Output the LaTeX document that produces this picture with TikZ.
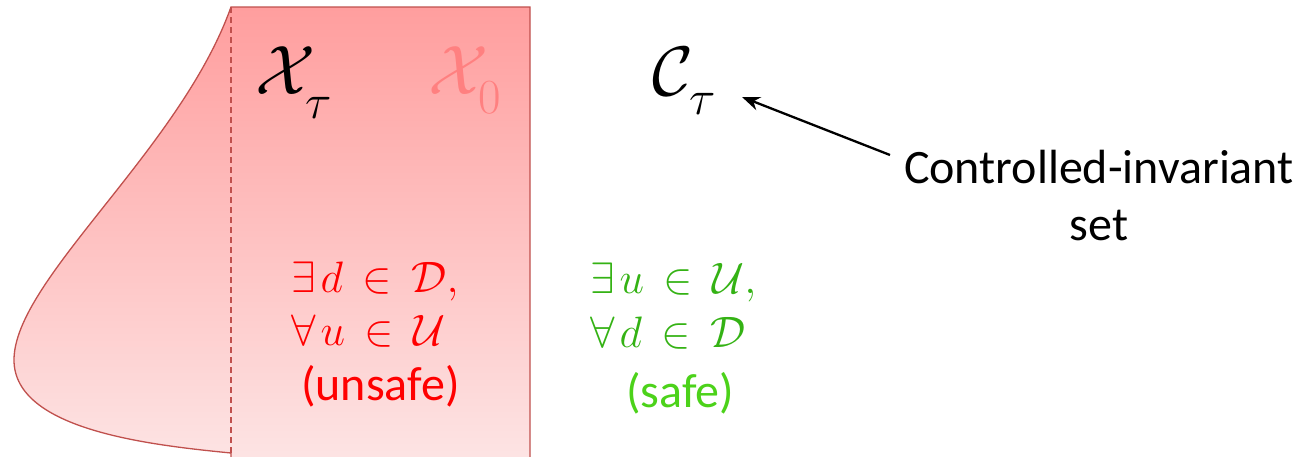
\documentclass[tikz,border=0pt]{standalone}
\usepackage{fix-cm}
\usepackage{fontspec}
\newfontfamily\calibri{Carlito}
\usetikzlibrary{arrows.meta}
\definecolor{edge}{RGB}{192,80,77}
\definecolor{topfill}{RGB}{255,158,158}
\definecolor{botfill}{RGB}{253,228,228}
\definecolor{pinkx}{RGB}{255,128,128}
\definecolor{mgreen}{RGB}{52,178,20}
\definecolor{sgreen}{RGB}{76,210,26}
\newcommand{\lowsub}[2]{\raisebox{-#1}{$\scriptstyle #2$}}
\newcommand{\wideIn}{\mathrel{\mkern3mu\in\mkern3mu}}
\tikzset{
  mathtxt/.style={inner sep=0pt, anchor=base west, font=\fontsize{44}{53}\selectfont},
  bigsym/.style={inner sep=0pt, anchor=base west, font=\fontsize{70}{72}\selectfont},
  caltxt/.style={inner sep=0pt, font=\calibri\fontsize{48}{56}\selectfont},
}
\begin{document}
\begin{tikzpicture}[x=1pt,y=-1pt]
\useasboundingbox (0,0) rectangle (1307,456);
% region
\shade[top color=topfill, bottom color=botfill, draw=edge, line width=1.3pt]
  (530,460) -- (530,7) -- (231,7)
  .. controls (180,150) and (14,280) .. (14,360)
  .. controls (14,430) and (150,445) .. (231,453) -- (231,460) -- cycle;
\draw[edge, line width=1.3pt, dash pattern=on 6pt off 4pt] (231,7) -- (231,460);
% labels
\node[bigsym] (xt) at (255,94) {$\mathcal{X}_{\lowsub{14pt}{\tau}}$};
\node[bigsym, text=pinkx] (x0) at (428,94) {$\mathcal{X}_{\lowsub{9pt}{0}}$};
\node[bigsym] (ct) at (652,95) {$\mathcal{C}_{\lowsub{9pt}{\tau}}$};
\node[caltxt, anchor=base] (cis) at (1099,183) {Controlled-invariant};
\node[caltxt, anchor=base] (set) at (1099,240) {set};
\coordinate (tip) at (742,97);
\coordinate (tail) at (890,155);
\draw[-{Stealth[length=18pt,width=14pt]}, line width=2.3pt] (tail) -- (tip);
% unsafe
\node[mathtxt, text=red] (u1) at (291,292) {$\exists\mkern2mu d\wideIn\mathcal{D},$};
\node[mathtxt, text=red] (u2) at (291,345) {$\forall\mkern2mu u\wideIn\mathcal{U}$};
\node[caltxt, text=red, anchor=base west] (u3) at (301,400) {(unsafe)};
% safe
\node[mathtxt, text=mgreen] (s1) at (590,293) {$\exists\mkern2mu u\wideIn\mathcal{U},$};
\node[mathtxt, text=mgreen] (s2) at (590,347) {$\forall\mkern2mu d\wideIn\mathcal{D}$};
\node[caltxt, text=sgreen, anchor=base west] (s3) at (626,407) {(safe)};
\end{tikzpicture}
\end{document}
